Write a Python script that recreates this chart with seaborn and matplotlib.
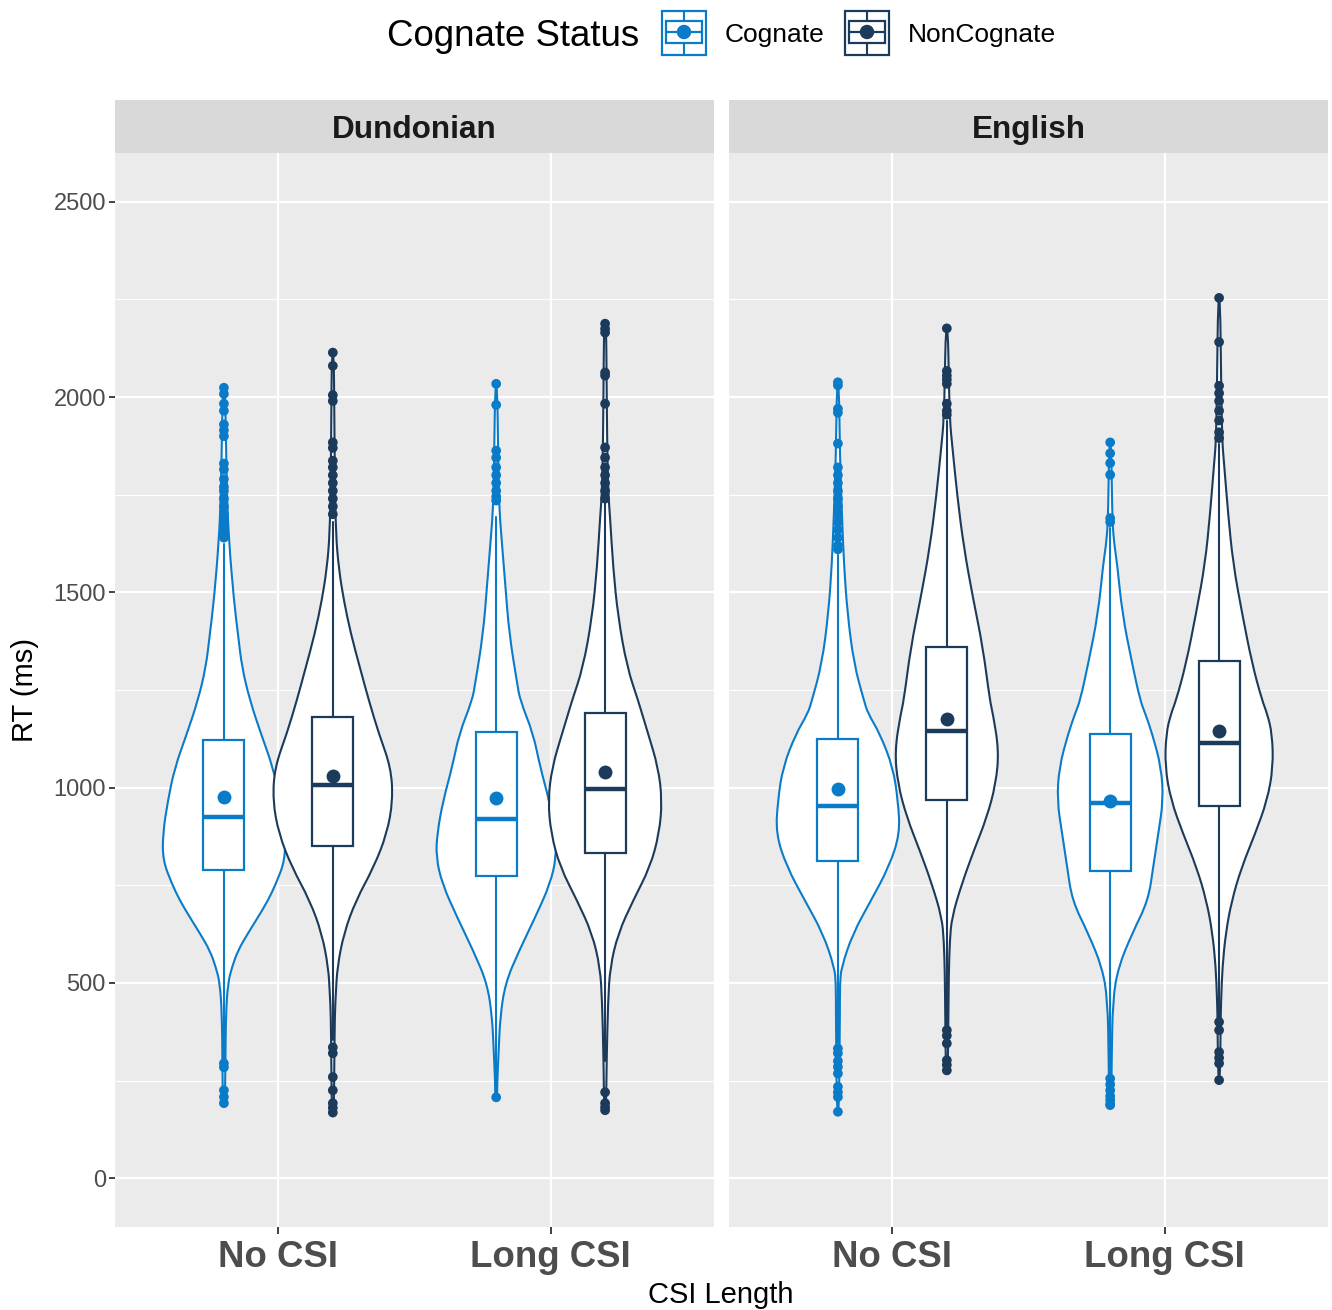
import numpy as np
import pandas as pd
import matplotlib.pyplot as plt
import seaborn as sns
from matplotlib.patches import Rectangle, Circle, PathPatch
from matplotlib.path import Path

# ── DATA ─────────────────────────────────────────────────────
languages = ["Dundonian", "English"]
csi_levels = ["No CSI", "Long CSI"]
status_levels = ["Cognate", "NonCognate"]

# one entry per violin: language x CSI length x cognate status
group_lang = ["Dundonian"] * 4 + ["English"] * 4
group_csi = ["No CSI", "No CSI", "Long CSI", "Long CSI"] * 2
group_status = ["Cognate", "NonCognate"] * 4

# box summaries (ms)
q1 = [788, 850, 774, 833, 812, 969, 786, 954]
median = [924, 1006, 920, 997, 954, 1146, 961, 1114]
q3 = [1123, 1182, 1142, 1191, 1125, 1360, 1138, 1325]
mean_rt = [975, 1031, 973, 1041, 997, 1176, 967, 1145]
whisk_lo = [300, 355, 230, 300, 345, 385, 262, 410]
whisk_hi = [1625, 1680, 1694, 1728, 1595, 1940, 1666, 1880]

# outliers (ms)
outliers = [
    [192, 208, 225, 284, 294, 1640, 1650, 1660, 1670, 1680, 1690, 1700, 1720, 1740,
     1760, 1770, 1790, 1815, 1830, 1900, 1915, 1930, 1965, 1983, 2008, 2024],
    [168, 180, 192, 225, 259, 320, 335, 1700, 1720, 1740, 1760, 1780, 1800, 1820,
     1837, 1870, 1884, 1990, 2005, 2080, 2114],
    [207, 1735, 1745, 1760, 1780, 1800, 1820, 1845, 1863, 1980, 2034],
    [174, 182, 192, 220, 1740, 1760, 1780, 1800, 1820, 1845, 1871, 1983, 2055,
     2063, 2165, 2175, 2188],
    [170, 208, 220, 234, 268, 285, 300, 320, 332, 1610, 1620, 1640, 1660, 1680,
     1700, 1720, 1740, 1760, 1780, 1800, 1820, 1881, 1960, 1970, 2030, 2038],
    [276, 290, 302, 345, 365, 379, 1955, 1965, 1983, 2034, 2045, 2055, 2067, 2176],
    [187, 190, 200, 210, 225, 240, 255, 1680, 1690, 1801, 1831, 1856, 1884],
    [251, 294, 308, 323, 379, 400, 1895, 1910, 1940, 1965, 1990, 2010, 2029, 2141, 2254],
]

# violin outlines: RT level and half-width (density, in pixels of the source)
violin_y = [
    [190, 300, 420, 499, 540, 583, 627, 668, 711, 754, 814, 882, 967, 1052, 1138,
     1223, 1308, 1394, 1479, 1632, 1750, 1900, 2025],
    [165, 300, 420, 473, 540, 627, 711, 797, 882, 967, 1052, 1138, 1223, 1308, 1394,
     1479, 1560, 1650, 1800, 1950, 2114],
    [207, 243, 328, 412, 499, 583, 668, 754, 822, 882, 967, 1052, 1138, 1223, 1266,
     1394, 1522, 1650, 1718, 1850, 2034],
    [174, 300, 455, 540, 627, 711, 797, 882, 967, 1052, 1138, 1180, 1223, 1308, 1436,
     1564, 1691, 1760, 1900, 2050, 2188],
    [170, 300, 420, 499, 540, 627, 711, 797, 882, 967, 1052, 1138, 1190, 1223, 1317,
     1446, 1573, 1700, 1850, 2038],
    [276, 400, 530, 609, 668, 754, 839, 924, 1010, 1095, 1190, 1223, 1360, 1487, 1615,
     1743, 1871, 1940, 2050, 2176],
    [187, 300, 455, 540, 627, 711, 797, 882, 967, 1052, 1138, 1190, 1223, 1317, 1446,
     1573, 1633, 1700, 1884],
    [251, 400, 455, 540, 627, 711, 797, 882, 967, 1052, 1138, 1190, 1223, 1317, 1446,
     1573, 1701, 1829, 1890, 2050, 2254],
]
violin_w = [
    [1, 1.5, 2, 4, 8, 14, 24, 34, 44, 52, 61, 61, 56, 49, 37, 26, 18, 14, 10, 5, 3, 2, 1],
    [1, 1.5, 2, 3, 4.5, 11, 23, 41, 54, 60, 58, 46, 36, 27, 18, 11, 6, 3, 2, 1.5, 1],
    [1, 1, 2.5, 4, 9, 23, 39, 54, 60, 59, 53, 44, 37, 24, 21, 13, 9, 5, 3, 2, 1],
    [1, 1.5, 3, 5, 13, 28, 45, 54, 57, 53, 43, 38, 33, 22, 13, 8, 5, 3, 2, 1.5, 1],
    [1, 1.5, 2, 2, 3.5, 15, 33, 51, 62, 60, 55, 42, 30, 26, 16, 9.5, 6, 4, 2, 1],
    [1, 1.5, 2, 3, 5, 15, 27, 40, 49, 52, 46, 43, 36, 26, 17, 10.6, 5.6, 3, 2, 1],
    [1, 1.5, 2.5, 8, 22, 38, 43, 48, 53, 51, 42, 35, 30, 22, 12, 7, 3.5, 2, 1],
    [1, 1.5, 2, 3.3, 6.6, 12.6, 22.6, 36, 48, 54, 53, 48, 43, 33, 23, 14, 9, 5, 3, 2, 1],
]

palette = {"Cognate": "#0A7BC8", "NonCognate": "#1C3A5A"}

# long-form tables for seaborn
out_df = pd.DataFrame([(group_lang[i], group_csi[i], group_status[i], v)
                       for i in range(8) for v in outliers[i]],
                      columns=["lang", "csi", "status", "rt"])
mean_df = pd.DataFrame({"lang": group_lang, "csi": group_csi,
                        "status": group_status, "rt": mean_rt})

# ── STYLE ────────────────────────────────────────────────────
sns.set_theme(style="darkgrid", rc={
    "axes.facecolor": "#EBEBEB", "grid.color": "white",
    "axes.edgecolor": "none", "figure.facecolor": "white"})
plt.rcParams["font.family"] = ["Liberation Sans", "DejaVu Sans"]

W, H = 1332, 1310
fig = plt.figure(figsize=(W / 100, H / 100), dpi=100)


def px_box(x0, y0, x1, y1):
    return [x0 / W, 1 - y1 / H, (x1 - x0) / W, (y1 - y0) / H]


def smooth_outline(pts):
    # closed outline drawn as quadratic curves through the point midpoints
    pts = np.asarray(pts)
    nxt = np.roll(pts, -1, axis=0)
    mids = (pts + nxt) / 2
    verts = [mids[-1]]
    codes = [Path.MOVETO]
    for p, m in zip(pts, mids):
        verts += [p, m]
        codes += [Path.CURVE3, Path.CURVE3]
    verts.append(mids[-1])
    codes.append(Path.CLOSEPOLY)
    return Path(verts, codes)


px_per_cat = 272.0
offset = {"Cognate": -0.2, "NonCognate": 0.2}
panel_x = [(115, 714), (729, 1328)]

axes = []
for p, lang in enumerate(languages):
    x0, x1 = panel_x[p]
    ax = fig.add_axes(px_box(x0, 153, x1, 1227))
    axes.append(ax)
    ax.set_axisbelow(True)

    for i in range(8):
        if group_lang[i] != lang:
            continue
        col = palette[group_status[i]]
        pos = csi_levels.index(group_csi[i]) + offset[group_status[i]]
        yy = np.array(violin_y[i], dtype=float)
        hw = np.array(violin_w[i], dtype=float) / px_per_cat
        xs = np.concatenate([pos - hw, (pos + hw)[::-1]])
        ys = np.concatenate([yy, yy[::-1]])
        ax.add_patch(PathPatch(smooth_outline(np.column_stack([xs, ys])),
                               facecolor="white", edgecolor=col, lw=1.5, zorder=2))

        stats = [{"med": median[i], "q1": q1[i], "q3": q3[i],
                  "whislo": whisk_lo[i], "whishi": whisk_hi[i], "fliers": []}]
        ax.bxp(stats, positions=[pos], widths=0.15, showcaps=False,
               showfliers=False, patch_artist=True, manage_ticks=False,
               boxprops=dict(facecolor="white", edgecolor=col, lw=1.6),
               whiskerprops=dict(color=col, lw=1.5),
               medianprops=dict(color=col, lw=3.2, solid_capstyle="butt"),
               zorder=3)

    sns.stripplot(data=out_df[out_df["lang"] == lang], x="csi", y="rt",
                  hue="status", order=csi_levels, hue_order=status_levels,
                  palette=palette, dodge=True, jitter=False, size=7,
                  linewidth=0, legend=False, ax=ax, zorder=5)
    sns.stripplot(data=mean_df[mean_df["lang"] == lang], x="csi", y="rt",
                  hue="status", order=csi_levels, hue_order=status_levels,
                  palette=palette, dodge=True, jitter=False, size=10,
                  linewidth=0, legend=False, ax=ax, zorder=6)

    ax.set_xlim(-0.6, 1.6)
    ax.set_ylim(-125, 2625)
    ax.set_yticks([0, 500, 1000, 1500, 2000, 2500])
    ax.set_yticks([250, 750, 1250, 1750, 2250], minor=True)
    ax.grid(which="major", color="white", lw=1.6)
    ax.grid(which="minor", axis="y", color="white", lw=0.8)
    ax.set_xlabel("")
    ax.set_ylabel("")
    ax.tick_params(axis="x", which="major", length=5, width=1.3, color="#333333",
                   labelsize=26.4, labelcolor="#4D4D4D", pad=4.5, bottom=True)
    for t in ax.get_xticklabels():
        t.set_fontweight("bold")
    ax.tick_params(axis="y", which="major", length=4.5, width=1.3, color="#333333",
                   labelsize=17, labelcolor="#4D4D4D", pad=2, left=(p == 0),
                   labelleft=(p == 0))
    ax.tick_params(axis="y", which="minor", length=0)
    for s in ax.spines.values():
        s.set_visible(False)

    # facet strip
    sax = fig.add_axes(px_box(x0, 100, x1, 153))
    sax.set_facecolor("#D9D9D9")
    sax.set_xticks([])
    sax.set_yticks([])
    sax.grid(False)
    sax.text(0.5, 0.44, lang, ha="center", va="center", fontsize=22.7,
             fontweight="bold", color="#1A1A1A", transform=sax.transAxes)

# axis titles
fig.text(721 / W, 1 - 1295 / H, "CSI Length", ha="center", va="center",
         fontsize=21, color="black")
fig.text(25 / W, 1 - 690 / H, "RT (ms)", ha="center", va="center",
         fontsize=21, rotation=90, color="black")

# ── LEGEND (top) ─────────────────────────────────────────────
lax = fig.add_axes([0, 0, 1, 1])
lax.set_xlim(0, W)
lax.set_ylim(H, 0)
lax.axis("off")
lax.text(387, 36, "Cognate Status", ha="left", va="center", fontsize=26.4,
         color="black")
for status, kx, tx in [("Cognate", 662, 725), ("NonCognate", 845, 908)]:
    col = palette[status]
    ky0, size = 11, 44
    lax.add_patch(Rectangle((kx, ky0), size, size, facecolor="white",
                            edgecolor=col, lw=1.6))
    lax.add_patch(Rectangle((kx + 4, ky0 + 10), size - 8, size - 22,
                            facecolor="white", edgecolor=col, lw=1.6))
    cx, cy = kx + size / 2, ky0 + 21
    lax.plot([cx, cx], [ky0, ky0 + 10], color=col, lw=1.5)
    lax.plot([cx, cx], [ky0 + size - 12, ky0 + size], color=col, lw=1.5)
    lax.plot([kx + 4, kx + size - 4], [cy, cy], color=col, lw=1.6)
    lax.add_patch(Circle((cx, cy), 6.5, color=col))
    lax.text(tx, 35, status, ha="left", va="center", fontsize=19, color="black")

plt.savefig("out.png", dpi=100)
